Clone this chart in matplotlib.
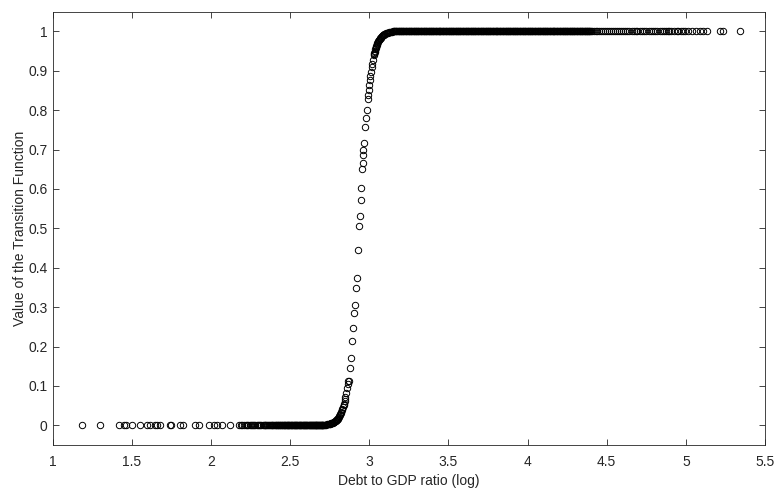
import numpy as np
import matplotlib
matplotlib.use('Agg')
import matplotlib.pyplot as plt

# --- data ---
# left tail, transition value ~ 0
tail_x = [1.186, 1.302, 1.418, 1.449, 1.465, 1.503, 1.551, 1.597, 1.614, 1.650,
          1.661, 1.677, 1.741, 1.749, 1.808, 1.825, 1.899, 1.928, 1.987, 2.019,
          2.040, 2.072, 2.120, 2.176, 2.188, 2.197, 2.210, 2.221, 2.233, 2.246,
          2.258, 2.266, 2.279, 2.291, 2.302, 2.318, 2.327, 2.339, 2.351, 2.362,
          2.374, 2.383, 2.395, 2.404, 2.413, 2.421, 2.430, 2.438, 2.447, 2.455,
          2.462, 2.470, 2.478, 2.485, 2.492, 2.500, 2.507, 2.514, 2.522, 2.529,
          2.536, 2.543, 2.551, 2.558, 2.565, 2.572, 2.579, 2.586, 2.593, 2.600,
          2.607, 2.614, 2.620, 2.627, 2.633, 2.640, 2.646, 2.652, 2.658, 2.664,
          2.670, 2.676, 2.682, 2.688, 2.694, 2.699, 2.705,
          2.226, 2.252, 2.272, 2.296, 2.310, 2.333, 2.345, 2.357, 2.368, 2.378,
          2.389, 2.399, 2.409, 2.417, 2.425, 2.434, 2.442, 2.451, 2.459, 2.466,
          2.474, 2.481, 2.488, 2.496, 2.503, 2.511, 2.518, 2.525, 2.532, 2.540,
          2.547, 2.554, 2.561, 2.568, 2.575, 2.582, 2.589, 2.596, 2.603, 2.610,
          2.617, 2.623, 2.630, 2.636, 2.643, 2.649, 2.655, 2.661, 2.667, 2.673,
          2.679, 2.685, 2.691, 2.697, 2.702, 2.708]
tail_y = [0.0] * len(tail_x)

# the transition itself
trans_x = [2.711, 2.717, 2.722, 2.728, 2.733, 2.739, 2.744, 2.750, 2.755, 2.760,
           2.765, 2.770, 2.775, 2.780, 2.785, 2.790, 2.795, 2.800, 2.805, 2.810,
           2.815, 2.820, 2.825, 2.830, 2.835, 2.840, 2.845, 2.850, 2.855, 2.860,
           2.864, 2.868, 2.872, 2.878, 2.884, 2.892, 2.899, 2.906, 2.911, 2.915,
           2.920, 2.929, 2.937, 2.940, 2.946, 2.950, 2.957, 2.959, 2.961, 2.963,
           2.965, 2.974, 2.978, 2.983, 2.990, 2.992, 2.996, 3.000, 3.004, 3.006,
           3.011, 3.015, 3.017, 3.021, 3.028, 3.032, 3.036, 3.040, 3.045, 3.050,
           3.055, 3.060, 3.066, 3.072, 3.078, 3.085, 3.092, 3.100, 3.110, 3.120,
           3.132, 3.145,
           3.030, 3.034, 3.038, 3.043, 3.047, 3.052, 3.057, 3.063, 3.069, 3.075,
           3.081, 3.088, 3.096, 3.105, 3.115, 3.126, 3.138,
           2.758, 2.768, 2.778, 2.788, 2.798, 2.808, 2.818, 2.828, 2.838, 2.848]
trans_y = [0.001, 0.0012, 0.0017, 0.002, 0.0024, 0.003, 0.0036, 0.0039, 0.0045, 0.0053,
           0.006, 0.007, 0.008, 0.0094, 0.011, 0.0127, 0.0145, 0.017, 0.0196, 0.0228,
           0.026, 0.031, 0.035, 0.041, 0.047, 0.055, 0.062, 0.072, 0.082, 0.095,
           0.104, 0.112, 0.112, 0.146, 0.171, 0.213, 0.247, 0.285, 0.306, 0.349,
           0.375, 0.446, 0.505, 0.532, 0.572, 0.602, 0.650, 0.665, 0.686, 0.700,
           0.716, 0.758, 0.779, 0.800, 0.828, 0.838, 0.851, 0.863, 0.876, 0.886,
           0.897, 0.910, 0.918, 0.927, 0.939, 0.945, 0.951, 0.957, 0.963, 0.968,
           0.973, 0.977, 0.981, 0.984, 0.987, 0.990, 0.992, 0.994, 0.996, 0.997,
           0.998, 0.999,
           0.942, 0.948, 0.954, 0.960, 0.965, 0.970, 0.975, 0.979, 0.982, 0.985,
           0.988, 0.991, 0.993, 0.995, 0.9965, 0.9975, 0.9985,
           0.005, 0.0065, 0.0087, 0.0118, 0.0158, 0.021, 0.028, 0.038, 0.051, 0.067]

# upper regime, transition value ~ 1
upper_x = [3.150, 3.154, 3.159, 3.163, 3.168, 3.171, 3.176, 3.180, 3.186, 3.190,
           3.195, 3.199, 3.204, 3.208, 3.213, 3.216, 3.221, 3.225, 3.231, 3.235,
           3.240, 3.244, 3.249, 3.253, 3.258, 3.261, 3.266, 3.270, 3.276, 3.280,
           3.285, 3.289, 3.294, 3.298, 3.303, 3.306, 3.311, 3.315, 3.321, 3.325,
           3.330, 3.334, 3.339, 3.343, 3.348, 3.351, 3.356, 3.360, 3.366, 3.370,
           3.375, 3.379, 3.384, 3.388, 3.393, 3.396, 3.401, 3.405, 3.411, 3.415,
           3.420, 3.424, 3.429, 3.433, 3.438, 3.441, 3.446, 3.450, 3.456, 3.460,
           3.465, 3.469, 3.474, 3.478, 3.483, 3.486, 3.491, 3.495, 3.501, 3.505,
           3.510, 3.514, 3.519, 3.523, 3.528, 3.531, 3.536, 3.540, 3.546, 3.550,
           3.555, 3.559, 3.564, 3.568, 3.573, 3.576, 3.581, 3.585, 3.591, 3.595,
           3.600, 3.604, 3.609, 3.613, 3.618, 3.621, 3.626, 3.630, 3.636, 3.640,
           3.645, 3.649, 3.654, 3.658, 3.663, 3.666, 3.671, 3.675, 3.681, 3.685,
           3.690, 3.694, 3.699, 3.703, 3.708, 3.711, 3.716, 3.720, 3.726, 3.730,
           3.735, 3.739, 3.744, 3.748, 3.753, 3.756, 3.761, 3.765, 3.771, 3.775,
           3.780, 3.784, 3.789, 3.793, 3.798, 3.801, 3.806, 3.810, 3.816, 3.820,
           3.825, 3.829, 3.834, 3.838, 3.843, 3.846, 3.851, 3.855, 3.861, 3.865,
           3.870, 3.874, 3.879, 3.883, 3.888, 3.891, 3.896, 3.900, 3.906, 3.910,
           3.915, 3.919, 3.924, 3.928, 3.933, 3.936, 3.941, 3.945, 3.951, 3.955,
           3.960, 3.964, 3.969, 3.973, 3.978, 3.981, 3.986, 3.990, 3.996, 4.000,
           4.005, 4.009, 4.014, 4.018, 4.023, 4.026, 4.031, 4.035, 4.041, 4.045,
           4.050, 4.054, 4.059, 4.063, 4.068, 4.071, 4.076, 4.080, 4.086, 4.090,
           4.095, 4.099, 4.104, 4.108, 4.113, 4.116, 4.121, 4.125, 4.131, 4.135,
           4.140, 4.144, 4.149, 4.153, 4.158, 4.161, 4.166, 4.170, 4.176, 4.180,
           4.185, 4.189, 4.194, 4.198, 4.203, 4.206, 4.211, 4.215, 4.221, 4.225,
           4.230, 4.234, 4.239, 4.243, 4.248, 4.251, 4.256, 4.260, 4.266, 4.270,
           4.275, 4.279, 4.284, 4.288, 4.293, 4.296, 4.301, 4.305, 4.311, 4.315,
           4.320, 4.324, 4.329, 4.333, 4.338, 4.341, 4.346, 4.350, 4.356, 4.360,
           4.365, 4.369, 4.374, 4.378, 4.383, 4.386, 4.391, 4.395, 4.401, 4.405,
           4.418, 4.431, 4.440, 4.452, 4.466, 4.478, 4.487, 4.503, 4.515, 4.526,
           4.541, 4.553, 4.562, 4.578, 4.590, 4.604, 4.615, 4.628, 4.641, 4.659,
           4.670, 4.683, 4.694, 4.712, 4.724, 4.738, 4.751, 4.768, 4.779, 4.794,
           4.807, 4.820, 4.836, 4.848, 4.861, 4.875, 4.885, 4.895, 4.909, 4.922,
           4.941, 4.953, 4.968, 4.980, 4.994, 5.011, 5.036, 5.061, 5.089, 5.110,
           5.131, 5.215, 5.237, 5.342]
upper_y = [1.0] * len(upper_x)

x_ticks = [1, 1.5, 2, 2.5, 3, 3.5, 4, 4.5, 5, 5.5]
y_ticks = [0, 0.1, 0.2, 0.3, 0.4, 0.5, 0.6, 0.7, 0.8, 0.9, 1]

debt = np.array(tail_x + trans_x + upper_x)
gval = np.array(tail_y + trans_y + upper_y)

plt.rcParams['font.family'] = ['Liberation Sans', 'DejaVu Sans']
axcol = '#262626'

fig = plt.figure(figsize=(7.77, 4.90), dpi=100)
ax = fig.add_axes([0.0676, 0.0918, 0.917, 0.8844])
ax.plot(debt, gval, 'o', mfc='none', mec='black', ms=4.6, mew=0.7)

ax.set_xlim(1, 5.5)
ax.set_ylim(-0.05, 1.05)
ax.set_xticks(x_ticks)
ax.set_xticklabels(['1', '1.5', '2', '2.5', '3', '3.5', '4', '4.5', '5', '5.5'])
ax.set_yticks(y_ticks)
ax.set_yticklabels(['0', '0.1', '0.2', '0.3', '0.4', '0.5', '0.6', '0.7', '0.8', '0.9', '1'])
ax.tick_params(axis='x', pad=7)
ax.tick_params(direction='in', top=True, right=True, length=4, width=0.6,
               colors=axcol, labelsize=10)
for s in ax.spines.values():
    s.set_color(axcol)
    s.set_linewidth(0.6)

ax.set_xlabel('Debt to GDP ratio (log)', fontsize=10, color=axcol, labelpad=4)
ax.set_ylabel('Value of the Transition Function', fontsize=10, color=axcol, labelpad=1)

fig.savefig('out.png', dpi=100)
